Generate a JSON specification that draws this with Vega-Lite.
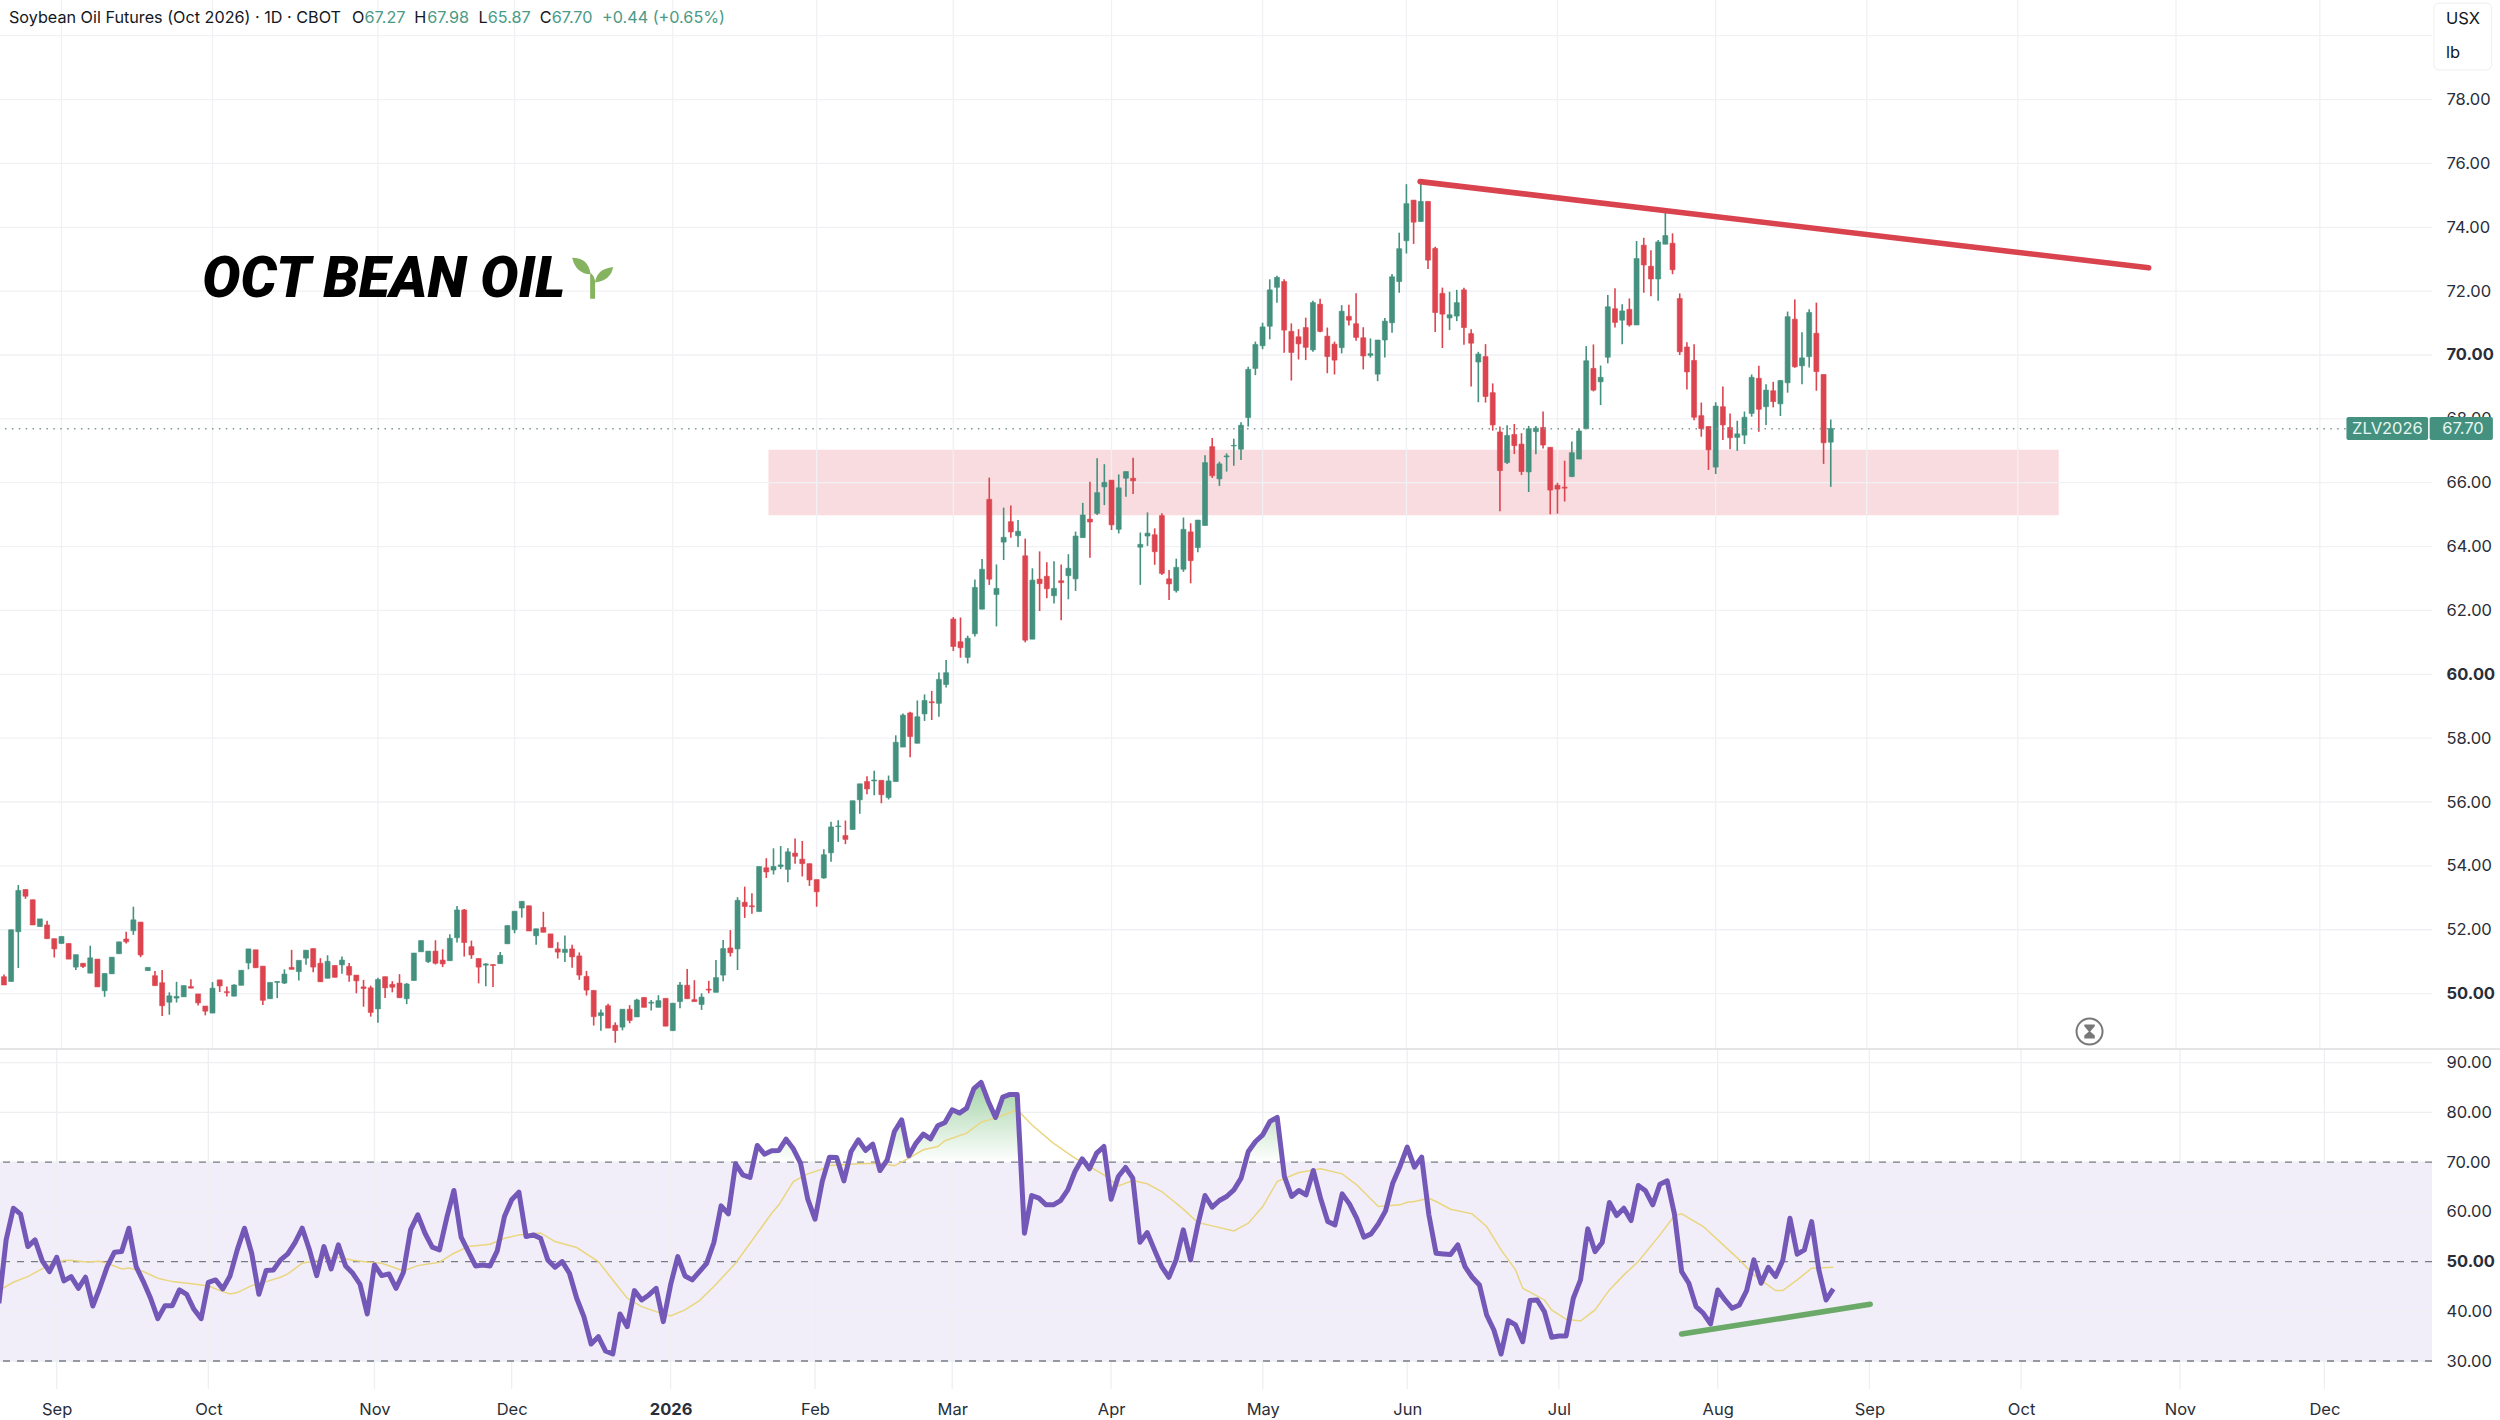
{
  "$schema": "https://vega.github.io/schema/vega-lite/v6.json",
  "description": "Soybean Oil Futures (Oct 2026) daily candles with RSI pane.",
  "padding": 0,
  "spacing": 0,
  "bounds": "flush",
  "background": "white",
  "config": {
    "view": {"stroke": null},
    "axis": {"domain": false, "ticks": false, "grid": false, "labelFont": "Inter", "labelFontSize": 16.5, "labelColor": "#2a2e39", "labelOverlap": false}
  },
  "datasets": {
    "months": [{"t":0},{"t":21},{"t":44},{"t":63},{"t":85},{"t":105},{"t":124},{"t":146},{"t":167},{"t":187},{"t":208},{"t":230},{"t":251},{"t":272},{"t":294},{"t":314}],
    "priceLevels": [{"v":50},{"v":52},{"v":54},{"v":56},{"v":58},{"v":60},{"v":62},{"v":64},{"v":66},{"v":68},{"v":70},{"v":72},{"v":74},{"v":76},{"v":78},{"v":80}],
    "rsiLevels": [{"v":30},{"v":40},{"v":50},{"v":60},{"v":70},{"v":80},{"v":90}],
    "bars": [
      {"n":-8,"o":50.53,"h":50.6,"l":50.27,"c":50.27,"rsi":41.6},
      {"n":-7,"o":50.38,"h":52.0,"l":50.38,"c":52.0,"rsi":54.36},
      {"n":-6,"o":51.94,"h":53.4,"l":50.8,"c":53.23,"rsi":60.74},
      {"n":-5,"o":53.26,"h":53.26,"l":52.97,"c":53.05,"rsi":59.53},
      {"n":-4,"o":52.94,"h":52.94,"l":52.15,"c":52.15,"rsi":53.02},
      {"n":-3,"o":52.1,"h":52.34,"l":52.1,"c":52.34,"rsi":54.36},
      {"n":-2,"o":52.15,"h":52.28,"l":51.72,"c":51.72,"rsi":50.13},
      {"n":-1,"o":51.72,"h":51.72,"l":51.13,"c":51.4,"rsi":47.99},
      {"n":0,"o":51.57,"h":51.79,"l":51.57,"c":51.79,"rsi":50.87},
      {"n":1,"o":51.57,"h":51.57,"l":51.08,"c":51.08,"rsi":46.11},
      {"n":2,"o":50.83,"h":51.22,"l":50.74,"c":51.22,"rsi":46.98},
      {"n":3,"o":50.95,"h":50.95,"l":50.8,"c":50.85,"rsi":44.63},
      {"n":4,"o":50.64,"h":51.5,"l":50.64,"c":51.12,"rsi":46.85},
      {"n":5,"o":51.08,"h":51.08,"l":50.21,"c":50.21,"rsi":41.07},
      {"n":6,"o":50.09,"h":50.63,"l":49.9,"c":50.63,"rsi":44.83},
      {"n":7,"o":50.62,"h":51.14,"l":50.62,"c":51.14,"rsi":48.99},
      {"n":8,"o":51.25,"h":51.62,"l":51.25,"c":51.62,"rsi":51.88},
      {"n":9,"o":51.71,"h":51.94,"l":51.57,"c":51.62,"rsi":52.01},
      {"n":10,"o":51.97,"h":52.72,"l":51.84,"c":52.31,"rsi":56.71},
      {"n":11,"o":52.24,"h":52.24,"l":51.14,"c":51.21,"rsi":48.99},
      {"n":12,"o":50.72,"h":50.82,"l":50.72,"c":50.82,"rsi":45.97},
      {"n":13,"o":50.56,"h":50.71,"l":50.25,"c":50.25,"rsi":42.62},
      {"n":14,"o":50.34,"h":50.74,"l":49.3,"c":49.62,"rsi":38.52},
      {"n":15,"o":49.73,"h":50.04,"l":49.34,"c":49.93,"rsi":41.14},
      {"n":16,"o":49.86,"h":50.37,"l":49.72,"c":49.91,"rsi":41.14},
      {"n":17,"o":49.9,"h":50.25,"l":49.9,"c":50.25,"rsi":44.3},
      {"n":18,"o":50.22,"h":50.45,"l":50.17,"c":50.17,"rsi":43.42},
      {"n":19,"o":49.99,"h":49.99,"l":49.63,"c":49.71,"rsi":40.4},
      {"n":20,"o":49.61,"h":49.61,"l":49.32,"c":49.45,"rsi":38.52},
      {"n":21,"o":49.39,"h":50.36,"l":49.39,"c":50.17,"rsi":45.84},
      {"n":22,"o":50.43,"h":50.43,"l":50.05,"c":50.24,"rsi":46.31},
      {"n":23,"o":50.06,"h":50.22,"l":49.91,"c":50.03,"rsi":44.5},
      {"n":24,"o":49.92,"h":50.29,"l":49.92,"c":50.27,"rsi":47.11},
      {"n":25,"o":50.26,"h":50.73,"l":50.26,"c":50.73,"rsi":52.35},
      {"n":26,"o":50.96,"h":51.4,"l":50.76,"c":51.4,"rsi":56.71},
      {"n":27,"o":51.37,"h":51.37,"l":50.81,"c":50.81,"rsi":51.68},
      {"n":28,"o":50.86,"h":50.86,"l":49.64,"c":49.79,"rsi":43.42},
      {"n":29,"o":49.84,"h":50.35,"l":49.84,"c":50.35,"rsi":48.19},
      {"n":30,"o":50.35,"h":50.38,"l":49.86,"c":50.38,"rsi":48.32},
      {"n":31,"o":50.33,"h":50.76,"l":50.3,"c":50.61,"rsi":50.34},
      {"n":32,"o":50.82,"h":51.37,"l":50.76,"c":50.76,"rsi":51.54},
      {"n":33,"o":50.69,"h":51.04,"l":50.41,"c":51.04,"rsi":53.83},
      {"n":34,"o":51.11,"h":51.36,"l":50.9,"c":51.36,"rsi":56.71},
      {"n":35,"o":51.41,"h":51.41,"l":50.67,"c":50.83,"rsi":52.35},
      {"n":36,"o":50.95,"h":51.11,"l":50.37,"c":50.37,"rsi":47.18},
      {"n":37,"o":50.48,"h":51.2,"l":50.48,"c":51.01,"rsi":53.02},
      {"n":38,"o":50.88,"h":50.88,"l":50.51,"c":50.51,"rsi":48.52},
      {"n":39,"o":50.9,"h":51.16,"l":50.62,"c":51.05,"rsi":53.36},
      {"n":40,"o":50.85,"h":50.96,"l":50.37,"c":50.58,"rsi":49.13},
      {"n":41,"o":50.58,"h":50.58,"l":50.01,"c":50.4,"rsi":47.65},
      {"n":42,"o":50.21,"h":50.43,"l":49.59,"c":50.16,"rsi":45.44},
      {"n":43,"o":50.18,"h":50.25,"l":49.28,"c":49.41,"rsi":39.46},
      {"n":44,"o":49.52,"h":50.5,"l":49.09,"c":50.44,"rsi":49.33},
      {"n":45,"o":50.53,"h":50.53,"l":49.86,"c":50.18,"rsi":47.18},
      {"n":46,"o":50.29,"h":50.39,"l":50.04,"c":50.2,"rsi":47.52},
      {"n":47,"o":50.33,"h":50.61,"l":49.87,"c":49.87,"rsi":44.63},
      {"n":48,"o":49.84,"h":50.33,"l":49.67,"c":50.3,"rsi":47.79},
      {"n":49,"o":50.41,"h":51.27,"l":50.41,"c":51.27,"rsi":56.38},
      {"n":50,"o":51.31,"h":51.66,"l":51.31,"c":51.66,"rsi":59.4},
      {"n":51,"o":51.0,"h":51.33,"l":50.96,"c":51.33,"rsi":55.7},
      {"n":52,"o":51.33,"h":51.67,"l":50.91,"c":50.95,"rsi":52.89},
      {"n":53,"o":51.05,"h":51.39,"l":50.83,"c":50.93,"rsi":52.35},
      {"n":54,"o":51.03,"h":51.86,"l":51.03,"c":51.73,"rsi":58.72},
      {"n":55,"o":51.75,"h":52.74,"l":51.6,"c":52.62,"rsi":64.3},
      {"n":56,"o":52.62,"h":52.65,"l":51.16,"c":51.6,"rsi":54.9},
      {"n":57,"o":51.47,"h":51.66,"l":51.09,"c":51.21,"rsi":52.01},
      {"n":58,"o":51.1,"h":51.1,"l":50.32,"c":50.83,"rsi":49.13},
      {"n":59,"o":50.89,"h":50.95,"l":50.23,"c":50.93,"rsi":49.33},
      {"n":60,"o":50.91,"h":50.91,"l":50.21,"c":50.88,"rsi":49.13},
      {"n":61,"o":50.94,"h":51.3,"l":50.94,"c":51.2,"rsi":52.15},
      {"n":62,"o":51.56,"h":52.13,"l":51.56,"c":52.13,"rsi":59.06},
      {"n":63,"o":52.0,"h":52.58,"l":51.89,"c":52.58,"rsi":62.42},
      {"n":64,"o":52.68,"h":52.89,"l":52.38,"c":52.89,"rsi":63.96},
      {"n":65,"o":52.75,"h":52.75,"l":51.96,"c":51.96,"rsi":55.03},
      {"n":66,"o":51.81,"h":52.03,"l":51.53,"c":52.03,"rsi":55.37},
      {"n":67,"o":52.07,"h":52.56,"l":51.92,"c":51.92,"rsi":54.7},
      {"n":68,"o":51.87,"h":51.87,"l":51.44,"c":51.44,"rsi":50.34},
      {"n":69,"o":51.4,"h":51.61,"l":51.1,"c":51.3,"rsi":48.86},
      {"n":70,"o":51.29,"h":51.82,"l":50.99,"c":51.39,"rsi":50.0},
      {"n":71,"o":51.4,"h":51.53,"l":50.81,"c":51.15,"rsi":47.65},
      {"n":72,"o":51.18,"h":51.29,"l":50.43,"c":50.58,"rsi":42.62},
      {"n":73,"o":50.54,"h":50.71,"l":49.94,"c":50.11,"rsi":38.93},
      {"n":74,"o":50.1,"h":50.1,"l":49.0,"c":49.28,"rsi":33.42},
      {"n":75,"o":49.31,"h":49.5,"l":48.84,"c":49.4,"rsi":34.9},
      {"n":76,"o":49.62,"h":49.68,"l":48.92,"c":48.92,"rsi":32.01},
      {"n":77,"o":49.01,"h":49.1,"l":48.46,"c":48.84,"rsi":31.41},
      {"n":78,"o":48.95,"h":49.51,"l":48.85,"c":49.51,"rsi":39.46},
      {"n":79,"o":49.51,"h":49.64,"l":49.07,"c":49.16,"rsi":36.91},
      {"n":80,"o":49.27,"h":49.84,"l":49.27,"c":49.8,"rsi":44.16},
      {"n":81,"o":49.88,"h":49.88,"l":49.57,"c":49.57,"rsi":42.28},
      {"n":82,"o":49.7,"h":49.8,"l":49.47,"c":49.73,"rsi":43.29},
      {"n":83,"o":49.57,"h":49.95,"l":49.57,"c":49.78,"rsi":44.63},
      {"n":84,"o":49.85,"h":49.85,"l":48.98,"c":48.98,"rsi":37.92},
      {"n":85,"o":48.84,"h":49.7,"l":48.84,"c":49.7,"rsi":45.3},
      {"n":86,"o":49.75,"h":50.36,"l":49.54,"c":50.27,"rsi":51.01},
      {"n":87,"o":50.26,"h":50.77,"l":49.84,"c":49.84,"rsi":47.11},
      {"n":88,"o":49.81,"h":50.42,"l":49.75,"c":49.75,"rsi":46.31},
      {"n":89,"o":49.66,"h":50.01,"l":49.49,"c":49.89,"rsi":47.99},
      {"n":90,"o":50.14,"h":50.4,"l":50.01,"c":50.11,"rsi":49.66},
      {"n":91,"o":50.04,"h":51.05,"l":50.04,"c":50.5,"rsi":53.83},
      {"n":92,"o":50.58,"h":51.68,"l":50.39,"c":51.41,"rsi":61.21},
      {"n":93,"o":51.43,"h":51.99,"l":51.16,"c":51.28,"rsi":59.6},
      {"n":94,"o":51.4,"h":53.02,"l":50.74,"c":52.92,"rsi":69.66},
      {"n":95,"o":52.86,"h":53.35,"l":52.37,"c":52.73,"rsi":67.45},
      {"n":96,"o":52.75,"h":53.14,"l":52.5,"c":52.72,"rsi":66.91},
      {"n":97,"o":52.57,"h":53.98,"l":52.57,"c":53.98,"rsi":73.36},
      {"n":98,"o":53.94,"h":54.24,"l":53.62,"c":53.81,"rsi":71.61},
      {"n":99,"o":53.87,"h":54.55,"l":53.73,"c":53.98,"rsi":72.28},
      {"n":100,"o":53.98,"h":54.62,"l":53.9,"c":54.03,"rsi":72.35},
      {"n":101,"o":53.89,"h":54.55,"l":53.49,"c":54.44,"rsi":74.63},
      {"n":102,"o":54.4,"h":54.86,"l":54.07,"c":54.3,"rsi":72.68},
      {"n":103,"o":54.21,"h":54.78,"l":53.67,"c":54.07,"rsi":69.8},
      {"n":104,"o":54.07,"h":54.07,"l":53.37,"c":53.56,"rsi":62.55},
      {"n":105,"o":53.57,"h":53.57,"l":52.72,"c":53.19,"rsi":58.52},
      {"n":106,"o":53.62,"h":54.52,"l":53.6,"c":54.35,"rsi":66.11},
      {"n":107,"o":54.41,"h":55.38,"l":54.13,"c":55.22,"rsi":71.01},
      {"n":108,"o":55.23,"h":55.43,"l":54.75,"c":55.25,"rsi":70.94},
      {"n":109,"o":54.95,"h":55.42,"l":54.68,"c":54.83,"rsi":66.24},
      {"n":110,"o":55.14,"h":56.04,"l":55.14,"c":56.04,"rsi":72.15},
      {"n":111,"o":56.07,"h":56.57,"l":55.63,"c":56.57,"rsi":74.5},
      {"n":112,"o":56.64,"h":56.81,"l":56.24,"c":56.41,"rsi":72.35},
      {"n":113,"o":56.66,"h":56.98,"l":56.21,"c":56.69,"rsi":73.62},
      {"n":114,"o":56.68,"h":56.68,"l":55.96,"c":56.23,"rsi":68.32},
      {"n":115,"o":56.14,"h":56.83,"l":56.08,"c":56.66,"rsi":70.47},
      {"n":116,"o":56.64,"h":58.09,"l":56.64,"c":57.87,"rsi":76.17},
      {"n":117,"o":57.72,"h":58.77,"l":57.72,"c":58.72,"rsi":78.52},
      {"n":118,"o":58.79,"h":58.83,"l":57.4,"c":58.05,"rsi":71.28},
      {"n":119,"o":57.84,"h":59.18,"l":57.84,"c":58.67,"rsi":73.83},
      {"n":120,"o":58.76,"h":59.37,"l":58.54,"c":59.18,"rsi":75.64},
      {"n":121,"o":59.14,"h":59.48,"l":58.57,"c":59.11,"rsi":74.7},
      {"n":122,"o":59.09,"h":60.06,"l":58.67,"c":59.84,"rsi":77.32},
      {"n":123,"o":59.68,"h":60.45,"l":59.59,"c":60.05,"rsi":77.99},
      {"n":124,"o":61.73,"h":61.79,"l":60.73,"c":60.87,"rsi":80.54},
      {"n":125,"o":61.02,"h":61.78,"l":60.52,"c":60.83,"rsi":79.87},
      {"n":126,"o":60.53,"h":61.21,"l":60.34,"c":61.13,"rsi":80.87},
      {"n":127,"o":61.27,"h":62.97,"l":61.18,"c":62.72,"rsi":84.77},
      {"n":128,"o":62.04,"h":63.61,"l":62.04,"c":63.29,"rsi":86.04},
      {"n":129,"o":65.48,"h":66.16,"l":62.8,"c":62.98,"rsi":82.21},
      {"n":130,"o":62.5,"h":63.44,"l":61.5,"c":62.69,"rsi":78.99},
      {"n":131,"o":64.14,"h":65.22,"l":63.58,"c":64.29,"rsi":83.09},
      {"n":132,"o":64.78,"h":65.29,"l":64.28,"c":64.46,"rsi":83.62},
      {"n":133,"o":64.34,"h":64.83,"l":63.99,"c":64.48,"rsi":83.62},
      {"n":134,"o":63.71,"h":64.25,"l":61.0,"c":61.07,"rsi":55.7},
      {"n":135,"o":61.1,"h":63.32,"l":61.1,"c":62.95,"rsi":63.29},
      {"n":136,"o":62.98,"h":63.85,"l":61.98,"c":62.84,"rsi":62.75},
      {"n":137,"o":63.07,"h":63.51,"l":62.38,"c":62.68,"rsi":61.41},
      {"n":138,"o":62.46,"h":63.54,"l":62.22,"c":62.69,"rsi":61.41},
      {"n":139,"o":62.93,"h":63.44,"l":61.69,"c":62.87,"rsi":62.28},
      {"n":140,"o":63.09,"h":63.76,"l":62.35,"c":63.32,"rsi":64.43},
      {"n":141,"o":62.99,"h":64.47,"l":62.61,"c":64.33,"rsi":68.12},
      {"n":142,"o":64.28,"h":65.37,"l":64.28,"c":64.99,"rsi":70.67},
      {"n":143,"o":64.86,"h":66.03,"l":63.65,"c":64.77,"rsi":68.66},
      {"n":144,"o":65.04,"h":66.77,"l":64.99,"c":65.69,"rsi":71.81},
      {"n":145,"o":65.87,"h":66.58,"l":65.3,"c":66.01,"rsi":73.15},
      {"n":146,"o":66.08,"h":66.08,"l":64.52,"c":64.68,"rsi":62.55},
      {"n":147,"o":64.54,"h":66.26,"l":64.41,"c":65.84,"rsi":67.11},
      {"n":148,"o":66.14,"h":66.35,"l":65.56,"c":66.35,"rsi":68.93},
      {"n":149,"o":66.14,"h":66.78,"l":65.65,"c":66.06,"rsi":66.78},
      {"n":150,"o":63.98,"h":64.44,"l":62.8,"c":64.07,"rsi":53.89},
      {"n":151,"o":64.33,"h":65.07,"l":64.02,"c":64.42,"rsi":55.84},
      {"n":152,"o":64.37,"h":64.57,"l":63.43,"c":63.84,"rsi":52.35},
      {"n":153,"o":64.97,"h":65.04,"l":63.11,"c":63.16,"rsi":48.99},
      {"n":154,"o":62.99,"h":63.27,"l":62.33,"c":62.83,"rsi":46.85},
      {"n":155,"o":62.62,"h":63.62,"l":62.56,"c":63.35,"rsi":50.34},
      {"n":156,"o":63.29,"h":64.91,"l":63.21,"c":64.54,"rsi":56.38},
      {"n":157,"o":64.46,"h":64.73,"l":62.85,"c":63.56,"rsi":50.34},
      {"n":158,"o":63.97,"h":64.83,"l":63.82,"c":64.83,"rsi":57.38},
      {"n":159,"o":64.66,"h":66.86,"l":64.66,"c":66.63,"rsi":63.29},
      {"n":160,"o":67.13,"h":67.4,"l":66.15,"c":66.22,"rsi":60.94},
      {"n":161,"o":66.12,"h":66.66,"l":65.9,"c":66.59,"rsi":62.28},
      {"n":162,"o":66.81,"h":66.92,"l":66.35,"c":66.84,"rsi":63.09},
      {"n":163,"o":67.15,"h":67.38,"l":66.53,"c":67.17,"rsi":64.43},
      {"n":164,"o":67.05,"h":67.89,"l":66.71,"c":67.8,"rsi":66.78},
      {"n":165,"o":68.04,"h":69.63,"l":67.76,"c":69.55,"rsi":72.15},
      {"n":166,"o":69.58,"h":70.42,"l":69.37,"c":70.33,"rsi":74.16},
      {"n":167,"o":70.29,"h":71.01,"l":70.18,"c":70.88,"rsi":75.5},
      {"n":168,"o":70.9,"h":72.37,"l":70.49,"c":72.04,"rsi":78.19},
      {"n":169,"o":72.12,"h":72.48,"l":71.64,"c":72.43,"rsi":78.99},
      {"n":170,"o":72.3,"h":72.37,"l":70.07,"c":70.78,"rsi":67.11},
      {"n":171,"o":70.74,"h":70.99,"l":69.2,"c":70.08,"rsi":63.09},
      {"n":172,"o":70.57,"h":70.81,"l":69.86,"c":70.35,"rsi":64.3},
      {"n":173,"o":70.86,"h":71.17,"l":69.84,"c":70.24,"rsi":63.42},
      {"n":174,"o":70.16,"h":71.7,"l":70.1,"c":71.64,"rsi":68.32},
      {"n":175,"o":71.59,"h":71.76,"l":70.71,"c":70.74,"rsi":62.75},
      {"n":176,"o":70.59,"h":70.86,"l":69.43,"c":69.95,"rsi":58.05},
      {"n":177,"o":70.34,"h":70.42,"l":69.39,"c":69.84,"rsi":57.38},
      {"n":178,"o":70.23,"h":71.56,"l":70.05,"c":71.37,"rsi":63.62},
      {"n":179,"o":71.21,"h":71.57,"l":70.92,"c":71.09,"rsi":61.61},
      {"n":180,"o":70.98,"h":71.93,"l":70.45,"c":70.55,"rsi":58.72},
      {"n":181,"o":70.54,"h":70.87,"l":69.55,"c":69.97,"rsi":54.9},
      {"n":182,"o":69.99,"h":70.52,"l":69.92,"c":70.04,"rsi":55.57},
      {"n":183,"o":69.4,"h":70.47,"l":69.18,"c":70.47,"rsi":57.58},
      {"n":184,"o":70.47,"h":71.16,"l":69.92,"c":71.06,"rsi":60.2},
      {"n":185,"o":71.01,"h":72.54,"l":70.7,"c":72.45,"rsi":65.77},
      {"n":186,"o":72.3,"h":73.83,"l":71.95,"c":73.33,"rsi":69.13},
      {"n":187,"o":73.58,"h":75.35,"l":73.18,"c":74.74,"rsi":73.02},
      {"n":188,"o":74.85,"h":74.85,"l":73.48,"c":74.16,"rsi":68.99},
      {"n":189,"o":74.18,"h":75.38,"l":74.18,"c":74.81,"rsi":71.01},
      {"n":190,"o":74.81,"h":74.81,"l":72.69,"c":72.97,"rsi":59.4},
      {"n":191,"o":73.34,"h":73.39,"l":70.72,"c":71.33,"rsi":51.68},
      {"n":192,"o":71.93,"h":72.11,"l":70.22,"c":71.28,"rsi":51.54},
      {"n":193,"o":71.16,"h":71.98,"l":70.78,"c":71.26,"rsi":51.41},
      {"n":194,"o":71.22,"h":72.04,"l":71.06,"c":71.64,"rsi":53.36},
      {"n":195,"o":72.04,"h":72.11,"l":70.32,"c":70.86,"rsi":48.99},
      {"n":196,"o":70.67,"h":70.81,"l":69.01,"c":70.37,"rsi":46.85},
      {"n":197,"o":69.78,"h":70.1,"l":68.52,"c":70.03,"rsi":45.3},
      {"n":198,"o":69.95,"h":70.34,"l":68.51,"c":68.7,"rsi":39.26},
      {"n":199,"o":68.82,"h":69.11,"l":67.63,"c":67.81,"rsi":36.24},
      {"n":200,"o":67.59,"h":67.76,"l":65.11,"c":66.38,"rsi":31.41},
      {"n":201,"o":66.63,"h":67.8,"l":66.59,"c":67.48,"rsi":38.12},
      {"n":202,"o":67.51,"h":67.84,"l":66.9,"c":67.16,"rsi":37.25},
      {"n":203,"o":67.21,"h":67.55,"l":66.24,"c":66.35,"rsi":33.89},
      {"n":204,"o":66.34,"h":67.78,"l":65.71,"c":67.69,"rsi":42.15},
      {"n":205,"o":67.6,"h":67.78,"l":66.89,"c":67.71,"rsi":42.28},
      {"n":206,"o":67.73,"h":68.23,"l":67.07,"c":67.18,"rsi":39.93},
      {"n":207,"o":67.11,"h":67.11,"l":65.01,"c":65.77,"rsi":34.77},
      {"n":208,"o":65.92,"h":66.0,"l":65.03,"c":65.8,"rsi":35.03},
      {"n":209,"o":65.86,"h":66.69,"l":65.41,"c":65.83,"rsi":35.03},
      {"n":210,"o":66.19,"h":67.29,"l":66.19,"c":66.94,"rsi":42.62},
      {"n":211,"o":66.74,"h":67.7,"l":66.74,"c":67.62,"rsi":46.31},
      {"n":212,"o":67.69,"h":70.28,"l":67.69,"c":69.82,"rsi":56.58},
      {"n":213,"o":69.58,"h":70.33,"l":68.86,"c":68.9,"rsi":52.01},
      {"n":214,"o":69.16,"h":69.67,"l":68.43,"c":69.3,"rsi":53.83},
      {"n":215,"o":69.93,"h":71.88,"l":69.74,"c":71.51,"rsi":61.88},
      {"n":216,"o":71.45,"h":72.09,"l":70.86,"c":71.02,"rsi":59.26},
      {"n":217,"o":71.09,"h":71.59,"l":70.34,"c":71.38,"rsi":60.74},
      {"n":218,"o":71.43,"h":71.77,"l":70.89,"c":70.94,"rsi":58.26},
      {"n":219,"o":70.94,"h":73.57,"l":70.94,"c":73.02,"rsi":65.3},
      {"n":220,"o":73.44,"h":73.67,"l":71.95,"c":72.82,"rsi":64.23},
      {"n":221,"o":72.78,"h":73.28,"l":71.84,"c":72.38,"rsi":61.41},
      {"n":222,"o":72.38,"h":73.6,"l":71.7,"c":73.54,"rsi":65.57},
      {"n":223,"o":73.47,"h":74.54,"l":73.47,"c":73.74,"rsi":66.24},
      {"n":224,"o":73.5,"h":73.81,"l":72.53,"c":72.67,"rsi":59.6},
      {"n":225,"o":71.77,"h":71.93,"l":70.0,"c":70.1,"rsi":47.99},
      {"n":226,"o":70.25,"h":70.4,"l":68.92,"c":69.47,"rsi":45.64},
      {"n":227,"o":69.83,"h":70.34,"l":67.96,"c":68.05,"rsi":40.94},
      {"n":228,"o":68.1,"h":68.51,"l":67.44,"c":67.69,"rsi":39.6},
      {"n":229,"o":67.76,"h":67.76,"l":66.4,"c":67.03,"rsi":37.45},
      {"n":230,"o":66.49,"h":68.52,"l":66.27,"c":68.4,"rsi":44.3},
      {"n":231,"o":68.38,"h":69.01,"l":67.34,"c":67.81,"rsi":42.28},
      {"n":232,"o":67.73,"h":68.17,"l":67.05,"c":67.41,"rsi":40.6},
      {"n":233,"o":67.42,"h":67.94,"l":67.0,"c":67.53,"rsi":41.28},
      {"n":234,"o":67.49,"h":68.23,"l":67.21,"c":68.05,"rsi":44.16},
      {"n":235,"o":68.17,"h":69.39,"l":68.07,"c":69.3,"rsi":50.34},
      {"n":236,"o":69.27,"h":69.66,"l":67.6,"c":68.3,"rsi":45.64},
      {"n":237,"o":68.38,"h":69.08,"l":67.81,"c":68.9,"rsi":48.86},
      {"n":238,"o":68.88,"h":69.16,"l":68.36,"c":68.54,"rsi":46.98},
      {"n":239,"o":68.47,"h":69.22,"l":68.09,"c":69.2,"rsi":50.2},
      {"n":240,"o":69.13,"h":71.36,"l":68.82,"c":71.2,"rsi":58.72},
      {"n":241,"o":71.12,"h":71.74,"l":69.6,"c":69.63,"rsi":51.48},
      {"n":242,"o":69.66,"h":70.71,"l":69.08,"c":69.91,"rsi":52.35},
      {"n":243,"o":69.95,"h":71.43,"l":69.61,"c":71.33,"rsi":58.05},
      {"n":244,"o":70.68,"h":71.64,"l":68.88,"c":69.48,"rsi":48.32},
      {"n":245,"o":69.39,"h":69.39,"l":66.59,"c":67.25,"rsi":42.28},
      {"n":246,"o":67.27,"h":67.98,"l":65.87,"c":67.7,"rsi":44.5}
    ],
    "rsiAverage": [
      {"n":-8,"v":44.16},{"n":-6,"v":45.84},{"n":-4,"v":46.98},{"n":-3,"v":47.79},{"n":-1,"v":49.33},{"n":1,"v":50.2},{"n":2,"v":50.27},{"n":4,"v":49.93},{"n":6,"v":50.07},{"n":7,"v":49.66},{"n":9,"v":48.52},{"n":10,"v":48.72},{"n":12,"v":47.99},{"n":14,"v":46.64},{"n":16,"v":45.97},{"n":19,"v":45.5},{"n":21,"v":45.1},{"n":23,"v":43.96},{"n":24,"v":43.49},{"n":25,"v":43.76},{"n":27,"v":45.17},{"n":29,"v":45.97},{"n":31,"v":46.85},{"n":32,"v":47.52},{"n":34,"v":49.66},{"n":36,"v":50.2},{"n":37,"v":50.74},{"n":39,"v":50.87},{"n":41,"v":50.27},{"n":43,"v":49.93},{"n":45,"v":49.66},{"n":47,"v":48.66},{"n":48,"v":48.12},{"n":50,"v":49.19},{"n":53,"v":49.87},{"n":55,"v":51.68},{"n":57,"v":53.02},{"n":60,"v":53.49},{"n":62,"v":54.7},{"n":64,"v":55.37},{"n":67,"v":55.77},{"n":69,"v":54.03},{"n":72,"v":52.82},{"n":75,"v":50.0},{"n":77,"v":46.31},{"n":79,"v":42.62},{"n":81,"v":40.94},{"n":83,"v":39.93},{"n":85,"v":39.06},{"n":87,"v":40.27},{"n":89,"v":42.15},{"n":91,"v":44.97},{"n":94,"v":49.66},{"n":97,"v":55.7},{"n":99,"v":59.73},{"n":100,"v":61.41},{"n":102,"v":66.11},{"n":104,"v":67.65},{"n":106,"v":68.59},{"n":107,"v":69.33},{"n":111,"v":69.66},{"n":114,"v":69.8},{"n":116,"v":69.26},{"n":118,"v":70.81},{"n":120,"v":72.48},{"n":122,"v":73.15},{"n":123,"v":74.3},{"n":126,"v":75.84},{"n":128,"v":78.05},{"n":130,"v":78.86},{"n":133,"v":80.54},{"n":135,"v":77.52},{"n":138,"v":73.83},{"n":141,"v":70.81},{"n":143,"v":69.13},{"n":145,"v":67.45},{"n":147,"v":65.23},{"n":149,"v":66.31},{"n":151,"v":65.64},{"n":153,"v":64.09},{"n":156,"v":60.54},{"n":158,"v":57.85},{"n":160,"v":57.18},{"n":163,"v":56.17},{"n":165,"v":57.72},{"n":167,"v":61.07},{"n":169,"v":66.11},{"n":172,"v":67.92},{"n":175,"v":68.66},{"n":178,"v":67.65},{"n":180,"v":65.44},{"n":183,"v":61.07},{"n":186,"v":61.41},{"n":187,"v":61.95},{"n":188,"v":62.08},{"n":190,"v":62.75},{"n":191,"v":62.08},{"n":193,"v":60.54},{"n":196,"v":59.6},{"n":198,"v":57.05},{"n":200,"v":52.35},{"n":202,"v":48.32},{"n":203,"v":44.63},{"n":206,"v":42.28},{"n":207,"v":40.27},{"n":209,"v":38.39},{"n":211,"v":38.05},{"n":213,"v":40.27},{"n":215,"v":44.3},{"n":217,"v":47.32},{"n":219,"v":50.0},{"n":222,"v":55.37},{"n":224,"v":59.26},{"n":225,"v":59.6},{"n":228,"v":57.05},{"n":230,"v":54.36},{"n":233,"v":50.34},{"n":235,"v":47.32},{"n":238,"v":44.16},{"n":239,"v":44.16},{"n":241,"v":46.31},{"n":243,"v":48.66},{"n":246,"v":48.86}
    ],
    "overbought": [
      {"n":96,"v":70},{"n":97,"v":73.36},{"n":98,"v":71.61},{"n":99,"v":72.28},{"n":100,"v":72.35},{"n":101,"v":74.63},{"n":102,"v":72.68},{"n":103,"v":70},{"n":106,"v":70},{"n":107,"v":71.01},{"n":108,"v":70.94},{"n":109,"v":70},{"n":110,"v":72.15},{"n":111,"v":74.5},{"n":112,"v":72.35},{"n":113,"v":73.62},{"n":114,"v":70},{"n":115,"v":70.47},{"n":116,"v":76.17},{"n":117,"v":78.52},{"n":118,"v":71.28},{"n":119,"v":73.83},{"n":120,"v":75.64},{"n":121,"v":74.7},{"n":122,"v":77.32},{"n":123,"v":77.99},{"n":124,"v":80.54},{"n":125,"v":79.87},{"n":126,"v":80.87},{"n":127,"v":84.77},{"n":128,"v":86.04},{"n":129,"v":82.21},{"n":130,"v":78.99},{"n":131,"v":83.09},{"n":132,"v":83.62},{"n":133,"v":83.62},{"n":134,"v":70},{"n":141,"v":70},{"n":142,"v":70.67},{"n":143,"v":70},{"n":144,"v":71.81},{"n":145,"v":73.15},{"n":146,"v":70},{"n":164,"v":70},{"n":165,"v":72.15},{"n":166,"v":74.16},{"n":167,"v":75.5},{"n":168,"v":78.19},{"n":169,"v":78.99},{"n":170,"v":70}
    ],
    "headerText": [
      {"n":-7.3,"p":80.554,"label":"Soybean Oil Futures (Oct 2026) · 1D · CBOT","tone":"ink"},
      {"n":40.41,"p":80.554,"label":"O","tone":"ink"},
      {"n":42.14,"p":80.554,"label":"67.27","tone":"up"},
      {"n":49.06,"p":80.554,"label":"H","tone":"ink"},
      {"n":50.87,"p":80.554,"label":"67.98","tone":"up"},
      {"n":57.99,"p":80.554,"label":"L","tone":"ink"},
      {"n":59.27,"p":80.554,"label":"65.87","tone":"up"},
      {"n":66.51,"p":80.554,"label":"C","tone":"ink"},
      {"n":68.17,"p":80.554,"label":"67.70","tone":"up"},
      {"n":75.16,"p":80.554,"label":"+0.44 (+0.65%)","tone":"up"}
    ]
  },
  "vconcat": [
    {
      "width": 2432,
      "height": 1049,
      "layer": [
        {
          "data": {"values": [{"start": 98.3, "end": 277.7, "top": 67.03, "bottom": 64.98}]},
          "mark": {"type": "rect", "color": "#dc3c50", "opacity": 0.18},
          "encoding": {
            "x": {"field": "start", "type": "quantitative", "title": null,
              "scale": {"domain": [-7.85, 328.9], "nice": false, "zero": false},
              "axis": {"title": null, "orient": "bottom", "labels": false, "values": [0,21,44,63,85,105,124,146,167,187,208,230,251,272,294,314]}},
            "x2": {"field": "end"},
            "y": {"field": "top", "type": "quantitative", "title": null,
              "scale": {"domain": [48.265, 81.118], "nice": false, "zero": false},
              "axis": {"title": null, "orient": "right", "labelPadding": 14,
                "values": [50,52,54,56,58,60,62,64,66,68,70,72,74,76,78,80],
                "labelExpr": "datum.value == 80 ? '' : format(datum.value, '.2f')",
                "labelFontWeight": {"condition": {"test": "datum.value == 50 || datum.value == 60 || datum.value == 70", "value": "bold"}, "value": "normal"}}},
            "y2": {"field": "bottom"}
          }
        },
        {
          "data": {"name": "months"},
          "mark": {"type": "rule", "color": "#f0f1f4", "strokeWidth": 1.3, "clip": true},
          "encoding": {"x": {"field": "t", "type": "quantitative", "title": null}}
        },
        {
          "data": {"name": "priceLevels"},
          "mark": {"type": "rule", "color": "#f0f1f4", "strokeWidth": 1.3, "clip": true},
          "encoding": {"y": {"field": "v", "type": "quantitative", "title": null}}
        },
        {
          "data": {"name": "bars"},
          "mark": {"type": "rule", "strokeWidth": 1.6, "clip": true},
          "encoding": {
            "x": {"field": "n", "type": "quantitative", "title": null},
            "y": {"field": "l", "type": "quantitative", "title": null},
            "y2": {"field": "h"},
            "color": {"condition": {"test": "datum.c >= datum.o", "value": "#43917e"}, "value": "#dc444f"}
          }
        },
        {
          "data": {"name": "bars"},
          "mark": {"type": "bar", "size": 5, "strokeWidth": 0.6, "clip": true},
          "encoding": {
            "x": {"field": "n", "type": "quantitative", "title": null},
            "y": {"field": "o", "type": "quantitative", "title": null},
            "y2": {"field": "c"},
            "color": {"condition": {"test": "datum.c >= datum.o", "value": "#43917e"}, "value": "#dc444f"},
            "stroke": {"condition": {"test": "datum.c >= datum.o", "value": "#43917e"}, "value": "#dc444f"}
          }
        },
        {
          "data": {"values": [{"start": -7.85, "end": 317.7, "p": 67.69}]},
          "mark": {"type": "rule", "color": "#7f9891", "strokeWidth": 1.4, "strokeDash": [1.5, 5.4], "clip": true},
          "encoding": {
            "x": {"field": "start", "type": "quantitative", "title": null},
            "x2": {"field": "end"},
            "y": {"field": "p", "type": "quantitative", "title": null}
          }
        },
        {
          "data": {"values": [{"n": 188.9, "p": 75.43}, {"n": 290.2, "p": 72.73}]},
          "mark": {"type": "line", "color": "#d9434e", "strokeWidth": 5.6, "strokeCap": "round"},
          "encoding": {
            "x": {"field": "n", "type": "quantitative", "title": null},
            "y": {"field": "p", "type": "quantitative", "title": null}
          }
        },
        {
          "data": {"values": [{"start": 329.85, "end": 337.9, "top": 81.02, "bottom": 78.93}]},
          "mark": {"type": "rect", "fill": "#ffffff", "stroke": "#f1f1f3", "strokeWidth": 1.2, "cornerRadius": 5},
          "encoding": {
            "x": {"field": "start", "type": "quantitative", "title": null},
            "x2": {"field": "end"},
            "y": {"field": "top", "type": "quantitative", "title": null},
            "y2": {"field": "bottom"}
          }
        },
        {
          "data": {"values": [{"n": 331.55, "p": 80.51, "label": "USX"}, {"n": 331.55, "p": 79.45, "label": "lb"}]},
          "mark": {"type": "text", "align": "left", "baseline": "middle", "font": "Inter", "fontSize": 16.5, "color": "#131722"},
          "encoding": {
            "x": {"field": "n", "type": "quantitative", "title": null},
            "y": {"field": "p", "type": "quantitative", "title": null},
            "text": {"field": "label"}
          }
        },
        {
          "data": {"values": [{"start": 317.7, "end": 329.05, "top": 68.06, "bottom": 67.34}, {"start": 329.27, "end": 338.06, "top": 68.06, "bottom": 67.34}]},
          "mark": {"type": "rect", "color": "#43917e", "cornerRadius": 2},
          "encoding": {
            "x": {"field": "start", "type": "quantitative", "title": null},
            "x2": {"field": "end"},
            "y": {"field": "top", "type": "quantitative", "title": null},
            "y2": {"field": "bottom"}
          }
        },
        {
          "data": {"values": [{"n": 323.4, "p": 67.69, "label": "ZLV2026"}, {"n": 333.9, "p": 67.69, "label": "67.70"}]},
          "mark": {"type": "text", "align": "center", "baseline": "middle", "font": "Inter", "fontSize": 16.5, "color": "#e9f6f2"},
          "encoding": {
            "x": {"field": "n", "type": "quantitative", "title": null},
            "y": {"field": "p", "type": "quantitative", "title": null},
            "text": {"field": "label"}
          }
        },
        {
          "data": {"name": "headerText"},
          "mark": {"type": "text", "align": "left", "baseline": "middle", "font": "Inter", "fontSize": 16.2},
          "encoding": {
            "x": {"field": "n", "type": "quantitative", "title": null},
            "y": {"field": "p", "type": "quantitative", "title": null},
            "text": {"field": "label"},
            "color": {"field": "tone", "type": "nominal", "legend": null, "scale": {"domain": ["ink", "up"], "range": ["#131722", "#4a9a86"]}}
          }
        },
        {
          "data": {"values": [{"n": 19.57, "p": 71.82, "label": "OCT BEAN OIL"}]},
          "mark": {"type": "text", "align": "left", "baseline": "alphabetic", "font": "Roboto", "fontWeight": 900, "fontStyle": "italic", "fontSize": 57, "color": "#000000"},
          "encoding": {
            "x": {"field": "n", "type": "quantitative", "title": null},
            "y": {"field": "p", "type": "quantitative", "title": null},
            "text": {"field": "label"}
          }
        },
        {
          "data": {"values": [{"n": 73.85, "p": 72.4}]},
          "mark": {"type": "point", "shape": "M-0.12 1L0.12 1L0.12 0.1L0.05 -0.1L-0.12 -0.3ZM-1 -1Q-0.2 -1 -0.1 -0.2Q-0.8 -0.2 -1 -1ZM1 -0.55Q0.9 0.1 0.12 0.2Q0.2 -0.45 1 -0.55Z", "filled": true, "size": 1681, "color": "#86b35f", "opacity": 1},
          "encoding": {
            "x": {"field": "n", "type": "quantitative", "title": null},
            "y": {"field": "p", "type": "quantitative", "title": null}
          }
        },
        {
          "data": {"values": [{"n": 281.98, "p": 48.81}]},
          "mark": {"type": "point", "shape": "circle", "filled": false, "size": 676, "strokeWidth": 2, "color": "#787878", "opacity": 1},
          "encoding": {
            "x": {"field": "n", "type": "quantitative", "title": null},
            "y": {"field": "p", "type": "quantitative", "title": null}
          }
        },
        {
          "data": {"values": [{"n": 281.98, "p": 48.81}]},
          "mark": {"type": "point", "shape": "M-0.75 -1L0.75 -1L0.75 -0.75L0.1 0L0.75 0.55L0.75 1L-0.75 1L-0.75 0.55L-0.1 0L-0.75 -0.75Z", "filled": true, "size": 196, "color": "#787878", "opacity": 1},
          "encoding": {
            "x": {"field": "n", "type": "quantitative", "title": null},
            "y": {"field": "p", "type": "quantitative", "title": null}
          }
        }
      ]
    },
    {
      "width": 2432,
      "height": 340,
      "layer": [
        {
          "data": {"values": [{"start": -7.85, "end": 328.9, "top": 70, "bottom": 30}]},
          "mark": {"type": "rect", "color": "#7e57c2", "opacity": 0.1},
          "encoding": {
            "x": {"field": "start", "type": "quantitative", "title": null,
              "scale": {"domain": [-7.85, 328.9], "nice": false, "zero": false},
              "axis": {"title": null, "orient": "bottom", "labelPadding": 12, "labelColor": "#2a2e39",
                "values": [0,21,44,63,85,105,124,146,167,187,208,230,251,272,294,314],
                "labelExpr": "{'0':'Sep','21':'Oct','44':'Nov','63':'Dec','85':'2026','105':'Feb','124':'Mar','146':'Apr','167':'May','187':'Jun','208':'Jul','230':'Aug','251':'Sep','272':'Oct','294':'Nov','314':'Dec'}[datum.value]",
                "labelFontWeight": {"condition": {"test": "datum.value == 85", "value": "bold"}, "value": "normal"}}},
            "x2": {"field": "end"},
            "y": {"field": "top", "type": "quantitative", "title": null,
              "scale": {"domain": [24.37, 92.76], "nice": false, "zero": false},
              "axis": {"title": null, "orient": "right", "labelPadding": 14,
                "values": [30,40,50,60,70,80,90],
                "format": ".2f",
                "labelFontWeight": {"condition": {"test": "datum.value == 50", "value": "bold"}, "value": "normal"}}},
            "y2": {"field": "bottom"}
          }
        },
        {
          "data": {"name": "months"},
          "mark": {"type": "rule", "color": "#eeeff3", "strokeWidth": 1.3, "clip": true},
          "encoding": {"x": {"field": "t", "type": "quantitative", "title": null}}
        },
        {
          "data": {"name": "rsiLevels"},
          "mark": {"type": "rule", "color": "#eeeff3", "strokeWidth": 1.3, "clip": true},
          "encoding": {"y": {"field": "v", "type": "quantitative", "title": null}}
        },
        {
          "data": {"name": "overbought"},
          "mark": {"type": "area", "clip": true, "color": {"x1": 0, "y1": 0, "x2": 0, "y2": 1, "gradient": "linear", "stops": [{"offset": 0, "color": "#a3d3a6"}, {"offset": 1, "color": "#ffffff"}]}},
          "encoding": {
            "x": {"field": "n", "type": "quantitative", "title": null},
            "y": {"field": "v", "type": "quantitative", "title": null},
            "y2": {"datum": 70}
          }
        },
        {
          "data": {"values": [{"level": 70}, {"level": 50}, {"level": 30}]},
          "mark": {"type": "rule", "color": "#787b86", "strokeWidth": 1.4, "strokeDash": [7, 7], "clip": true},
          "encoding": {
            "y": {"field": "level", "type": "quantitative", "title": null}
          }
        },
        {
          "data": {"name": "rsiAverage"},
          "mark": {"type": "line", "color": "#ead67f", "strokeWidth": 1.5, "clip": true},
          "encoding": {
            "x": {"field": "n", "type": "quantitative", "title": null},
            "y": {"field": "v", "type": "quantitative", "title": null}
          }
        },
        {
          "data": {"name": "bars"},
          "mark": {"type": "line", "color": "#7458b8", "strokeWidth": 5, "strokeJoin": "round", "clip": true},
          "encoding": {
            "x": {"field": "n", "type": "quantitative", "title": null},
            "y": {"field": "rsi", "type": "quantitative", "title": null}
          }
        },
        {
          "data": {"values": [{"n": 225, "v": 35.44}, {"n": 251.1, "v": 41.41}]},
          "mark": {"type": "line", "color": "#6aa967", "strokeWidth": 5.6, "strokeCap": "round"},
          "encoding": {
            "x": {"field": "n", "type": "quantitative", "title": null},
            "y": {"field": "v", "type": "quantitative", "title": null}
          }
        },
        {
          "data": {"values": [{"start": -7.85, "end": 338.3, "top": 92.9, "bottom": 92.62}]},
          "mark": {"type": "rect", "color": "#dcdde0"},
          "encoding": {
            "x": {"field": "start", "type": "quantitative", "title": null},
            "x2": {"field": "end"},
            "y": {"field": "top", "type": "quantitative", "title": null},
            "y2": {"field": "bottom"}
          }
        }
      ]
    }
  ]
}
